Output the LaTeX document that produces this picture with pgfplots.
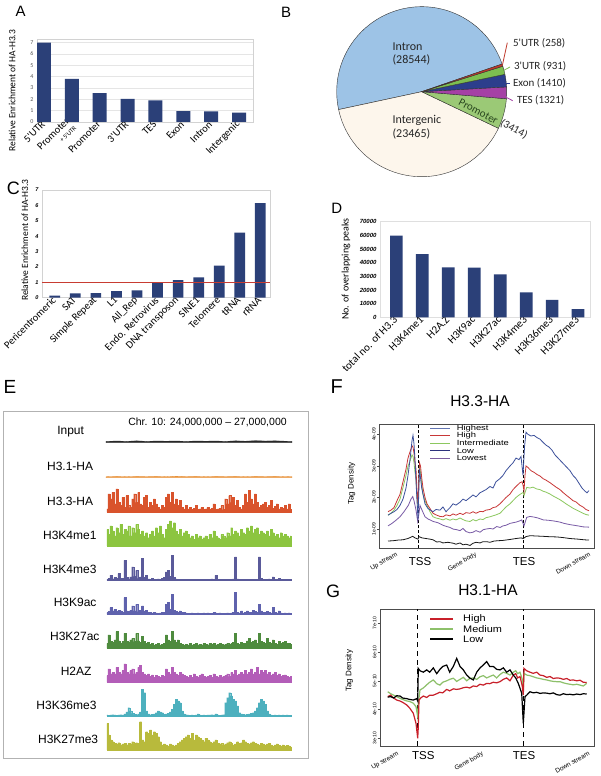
\documentclass[border=0pt]{standalone}
\usepackage{pgfplots}
\pgfplotsset{compat=1.18}
\usepackage{fontspec}
\setmainfont{Liberation Sans}
\newfontfamily\calfont{Carlito}
\newcommand{\fs}[1]{\fontsize{#1}{#1}\selectfont}
\definecolor{barblue}{RGB}{43,64,120}
\definecolor{pieIntron}{RGB}{157,195,230}
\definecolor{pieInterg}{RGB}{253,246,236}
\definecolor{pieProm}{RGB}{155,201,118}
\definecolor{pieTES}{RGB}{165,65,165}
\definecolor{pieExon}{RGB}{44,62,140}
\definecolor{pieUTRthree}{RGB}{125,190,80}
\definecolor{pieUTRfive}{RGB}{192,57,43}
\definecolor{promtxt}{RGB}{40,70,30}
\definecolor{tInput}{RGB}{40,40,40}
\definecolor{tHone}{RGB}{232,146,58}
\definecolor{tHthree}{RGB}{217,83,44}
\definecolor{tKfourmeone}{RGB}{140,197,64}
\definecolor{tKfourmethree}{RGB}{90,90,154}
\definecolor{tKnineac}{RGB}{95,98,173}
\definecolor{tKtwosevenac}{RGB}{78,139,62}
\definecolor{tHtwoAZ}{RGB}{179,93,184}
\definecolor{tKthreesix}{RGB}{77,176,190}
\definecolor{tKtwosevenme}{RGB}{184,186,60}
\definecolor{fTop}{RGB}{60,80,155}
\definecolor{fRed}{RGB}{200,55,55}
\definecolor{fGreen}{RGB}{140,200,95}
\definecolor{fPurple}{RGB}{120,90,165}
\definecolor{fBlack}{RGB}{25,25,25}
\definecolor{lgHighest}{RGB}{100,118,178}
\definecolor{lgLow}{RGB}{45,50,125}
\definecolor{lgLowest}{RGB}{125,95,160}
\definecolor{gRed}{RGB}{200,32,42}
\definecolor{gGreen}{RGB}{141,192,106}
\pgfplotsset{trk/.style={anchor=south west, scale only axis, width=186pt, height=30pt,
  xmin=-0.5, xmax=93.5, ymin=0, ymax=90, hide axis, clip=false},
  trkline/.style={const plot mark mid, fill=#1, draw=#1, line width=0.3pt}}
\begin{document}
\begin{tikzpicture}[x=1pt,y=1pt]
\path[use as bounding box, fill=white] (0,0) rectangle (600,776);

% ---------- panel letters and titles
\node[font=\fs{15}] at (20.7,764.3) {A};
\node[font=\fs{15}] at (286,764) {B};
\node[font=\fs{18}] at (13.3,587.7) {C};
\node[font=\fs{15}] at (336.7,568) {D};
\node[font=\fs{19}] at (10,389) {E};
\node[font=\fs{20}] at (336.7,389.3) {F};
\node[font=\fs{18}] at (333,184.3) {G};
\node[font=\fs{15.5}] at (480,375) {H3.3-HA};
\node[font=\fs{15.5}] at (488,186) {H3.1-HA};

% ---------- A
\begin{axis}[at={(37pt,654pt)}, anchor=south west, scale only axis, width=216pt, height=82.3pt,
  xmin=-0.25, xmax=7.5, ymin=0, ymax=7.25,
  axis line style={draw=gray!35}, ymajorgrids, grid style={gray!20},
  major tick length=0pt, ytick={0,...,7}, xtick={0,...,7},
  xticklabels={5'UTR, {Promoter\\[-1pt]{\fs{6.5}+ 5'UTR}}, Promoter, 3'UTR, TES, Exon, Intron, Intergenic},
  xticklabel style={rotate=45, anchor=east, font=\calfont\fs{10.5}, align=right, inner sep=1pt},
  yticklabel style={font=\calfont\fs{6}, text=gray!70!black},
  /pgf/number format/assume math mode=true,
  ylabel={Relative Enrichment of HA-H3.3},
  every axis y label/.style={at={(axis description cs:-0.115,0.38)}, rotate=90, anchor=center, font=\calfont\fs{9.5}}]
\addplot[ybar, bar width=14pt, fill=barblue, draw=none] coordinates {(0,6.98)(1,3.79)(2,2.54)(3,2.04)(4,1.9)(5,0.96)(6,0.93)(7,0.82)};
\end{axis}

% ---------- B pie
\foreach \v/\c [remember=\b as \a (initially 19)] in {28544/pieIntron, 23465/pieInterg, 3414/pieProm, 1321/pieTES, 1410/pieExon, 931/pieUTRthree, 258/pieUTRfive} {
  \edef\b{\fpeval{\a+\v/59343*360}}
  \filldraw[fill=\c, draw=gray!40!black, line width=0.4pt] (421.7,684.3) -- ++(\a:85pt) arc[start angle=\a, end angle=\b, radius=85pt] -- cycle;
}
\draw[pieUTRfive, line width=0.8pt] (502.4,710.8) -- (507.3,733.3);
\draw[pieUTRthree, line width=0.8pt] (503.9,705.7) -- (510,709);
\draw[pieExon, line width=0.8pt] (505,692.7) -- (510,692.7);
\draw[pieTES, line width=0.8pt] (505,679.3) -- (512.7,675.3);
\begin{scope}[font=\calfont\fs{12}, text=black!85]
\node[anchor=west] at (389,729.3) {Intron};
\node[anchor=west] at (389,716) {(28544)};
\node[anchor=west] at (389,655.3) {Intergenic};
\node[anchor=west] at (389,642) {(23465)};
\end{scope}
\begin{scope}[font=\calfont\fs{11}, text=black!85]
\node[anchor=west] at (509.5,732.7) {5'UTR (258)};
\node[anchor=west] at (510.5,709.3) {3'UTR (931)};
\node[anchor=west] at (509.5,692.7) {Exon (1410)};
\node[anchor=west] at (513.5,676) {TES (1321)};
\node[rotate=-28, text=promtxt] at (478.3,664.5) {Promoter};
\node[rotate=-28] at (514,647) {(3414)};
\end{scope}

% ---------- C
\begin{axis}[at={(42pt,478.3pt)}, anchor=south west, scale only axis, width=228pt, height=107.7pt,
  xmin=-0.62, xmax=10.47, ymin=0, ymax=7,
  axis line style={draw=gray!35}, major tick length=0pt, ytick={0,...,7}, xtick={0,...,10},
  xticklabels={Pericentromeric, SAT, Simple Repeat, L1, All\_Rep, Endo. Retrovirus, DNA transposon, SINE1, Telomere, tRNA, rRNA},
  xticklabel style={rotate=45, anchor=east, font=\calfont\fs{10.5}, inner sep=1pt},
  yticklabel style={font=\bfseries\itshape\fs{5.5}},
  /pgf/number format/assume math mode=true,
  ylabel={Relative Enrichment of HA-H3.3},
  every axis y label/.style={at={(axis description cs:-0.075,0.535)}, rotate=90, anchor=center, font=\calfont\fs{9.5}}]
\addplot[ybar, bar width=10.7pt, fill=barblue, draw=none] coordinates {(0,0.13)(1,0.28)(2,0.3)(3,0.43)(4,0.48)(5,0.95)(6,1.15)(7,1.32)(8,2.08)(9,4.23)(10,6.14)};
\addplot[draw={rgb,255:red,200;green,60;blue,50}, line width=0.9pt] coordinates {(-0.62,1.02)(10.47,1.02)};
\end{axis}

% ---------- D
\begin{axis}[at={(380pt,458.7pt)}, anchor=south west, scale only axis, width=210pt, height=95.6pt,
  xmin=-0.63, xmax=7.46, ymin=0, ymax=70000,
  axis line style={draw=gray!25}, major tick length=0pt,
  ytick={0,10000,20000,30000,40000,50000,60000,70000},
  yticklabels={0,10000,20000,30000,40000,50000,60000,70000}, scaled y ticks=false,
  yticklabel style={font=\bfseries\itshape\fs{6}},
  xtick={0,...,7},
  xticklabels={total no. of H3.3, H3K4me1, H2A.Z, H3K9ac, H3K27ac, H3K4me3, H3K36me3, H3K27me3},
  xticklabel style={rotate=45, anchor=east, font=\calfont\fs{11}, inner sep=1pt},
  ylabel={No. of overlapping peaks},
  every axis y label/.style={at={(axis description cs:-0.162,0.505)}, rotate=90, anchor=center, font=\calfont\fs{10}}]
\addplot[ybar, bar width=12.7pt, fill=barblue, draw=none] coordinates {(0,59800)(1,46300)(2,36600)(3,36400)(4,31500)(5,18300)(6,12700)(7,5900)};
\end{axis}

% ---------- E
\draw[gray!60, line width=0.6pt] (3.3,18) rectangle (308,364.3);
\node[font=\fs{10.5}] at (207.5,353.7) {Chr. 10: 24,000,000 -- 27,000,000};
\begin{scope}[font=\fs{12}]
\node[anchor=east] at (87.5,344.3) {Input};
\node[anchor=east] at (96.7,310) {H3.1-HA};
\node[anchor=east] at (96.7,274.3) {H3.3-HA};
\node[anchor=east] at (100,241) {H3K4me1};
\node[anchor=east] at (100,207) {H3K4me3};
\node[anchor=east] at (100,173.3) {H3K9ac};
\node[anchor=east] at (103,140) {H3K27ac};
\node[anchor=east] at (95,105) {H2AZ};
\node[anchor=east] at (100,71) {H3K36me3};
\node[anchor=east] at (101.7,37) {H3K27me3};
\end{scope}

\begin{axis}[trk, at={(106pt,333.3pt)}]
\addplot[fill=tInput, draw=tInput, line width=0.3pt] coordinates {(-0.5,4)(5,5)(10,4)(15,5.5)(20,4)(25,5)(30,4.5)(35,5)(40,4)(45,5)(50,4.5)(55,5)(60,4)(65,5.5)(70,4.5)(75,6)(80,5)(85,5.5)(90,4.5)(93.5,4)} \closedcycle;
\end{axis}
\begin{axis}[trk, at={(106pt,298.3pt)}]
\addplot[fill=tHone, draw=tHone, line width=0.3pt] coordinates {(-0.5,3)(5,4)(10,3)(15,4)(20,3.5)(25,4)(30,3)(35,4.5)(40,3.5)(45,4)(50,3)(55,4)(60,3.5)(65,4)(70,3)(75,4)(80,3.5)(85,4)(90,3)(93.5,3.5)} \closedcycle;
\end{axis}
\begin{axis}[trk, at={(106pt,263.7pt)}]
\addplot[trkline=tHthree] table[x expr=\coordindex, y index=0, header=false, row sep=\\] {10\\55\\40\\60\\25\\70\\30\\20\\45\\15\\50\\20\\15\\40\\55\\30\\60\\25\\20\\45\\50\\15\\30\\20\\40\\25\\15\\10\\20\\15\\45\\55\\30\\60\\25\\40\\20\\35\\15\\10\\20\\10\\15\\8\\12\\20\\8\\10\\15\\8\\10\\15\\8\\12\\25\\8\\10\\12\\20\\8\\40\\25\\50\\30\\45\\20\\35\\15\\10\\20\\55\\30\\65\\40\\25\\55\\30\\15\\20\\25\\30\\15\\20\\35\\12\\18\\25\\10\\15\\12\\20\\10\\25\\8\\} \closedcycle;
\end{axis}
\begin{axis}[trk, at={(106pt,230pt)}]
\addplot[trkline=tKfourmeone] table[x expr=\coordindex, y index=0, header=false, row sep=\\] {50\\35\\60\\45\\30\\55\\40\\65\\35\\50\\45\\60\\30\\55\\40\\65\\50\\35\\45\\30\\40\\25\\35\\45\\30\\55\\40\\60\\35\\25\\50\\65\\75\\55\\70\\45\\35\\50\\30\\40\\45\\35\\25\\30\\20\\35\\25\\30\\20\\25\\30\\20\\35\\25\\45\\30\\25\\20\\35\\30\\25\\40\\30\\55\\35\\45\\40\\30\\50\\40\\35\\55\\45\\60\\40\\50\\55\\35\\45\\40\\35\\45\\30\\50\\40\\30\\35\\25\\40\\30\\35\\30\\25\\30\\} \closedcycle;
\end{axis}
\begin{axis}[trk, at={(106pt,195.7pt)}]
\addplot[trkline=tKfourmethree] table[x expr=\coordindex, y index=0, header=false, row sep=\\] {3\\5\\15\\4\\8\\6\\20\\5\\6\\60\\8\\4\\10\\40\\12\\30\\6\\10\\65\\8\\15\\4\\3\\5\\3\\3\\4\\3\\5\\8\\25\\30\\12\\75\\8\\4\\3\\3\\2\\3\\2\\3\\2\\2\\3\\2\\2\\3\\2\\2\\2\\3\\2\\4\\3\\15\\3\\2\\2\\3\\2\\3\\2\\2\\4\\70\\4\\2\\3\\2\\2\\3\\2\\2\\3\\2\\3\\70\\5\\3\\2\\3\\4\\2\\10\\3\\2\\5\\2\\3\\2\\3\\2\\2\\} \closedcycle;
\end{axis}
\begin{axis}[trk, at={(106pt,161.7pt)}]
\addplot[trkline=tKnineac] table[x expr=\coordindex, y index=0, header=false, row sep=\\] {5\\8\\20\\10\\15\\8\\12\\10\\6\\50\\10\\8\\12\\25\\10\\30\\8\\12\\25\\10\\12\\6\\5\\4\\5\\4\\3\\4\\5\\6\\30\\35\\15\\60\\12\\8\\6\\10\\6\\5\\4\\3\\3\\4\\3\\3\\4\\3\\3\\4\\3\\4\\3\\3\\5\\4\\3\\4\\3\\3\\3\\4\\3\\4\\6\\65\\5\\4\\10\\4\\5\\10\\6\\5\\12\\8\\6\\30\\10\\6\\5\\8\\6\\4\\20\\5\\4\\10\\4\\3\\4\\3\\4\\3\\} \closedcycle;
\end{axis}
\begin{axis}[trk, at={(106pt,127.7pt)}]
\addplot[trkline=tKtwosevenac] table[x expr=\coordindex, y index=0, header=false, row sep=\\] {15\\40\\20\\18\\25\\50\\22\\15\\20\\45\\20\\18\\25\\30\\20\\45\\22\\18\\35\\20\\15\\18\\12\\15\\10\\12\\15\\10\\12\\14\\40\\25\\20\\50\\25\\18\\25\\15\\12\\10\\12\\10\\14\\10\\12\\15\\10\\12\\10\\14\\12\\10\\14\\12\\15\\10\\12\\14\\12\\10\\12\\15\\12\\14\\18\\45\\15\\12\\18\\15\\15\\22\\30\\18\\20\\25\\15\\45\\20\\18\\15\\30\\18\\15\\25\\15\\12\\20\\15\\18\\20\\15\\14\\12\\} \closedcycle;
\end{axis}
\begin{axis}[trk, at={(106pt,93.7pt)}]
\addplot[trkline=tHtwoAZ] table[x expr=\coordindex, y index=0, header=false, row sep=\\] {20\\40\\25\\30\\25\\45\\30\\25\\35\\55\\30\\25\\35\\40\\25\\30\\45\\50\\30\\25\\20\\25\\18\\22\\15\\20\\18\\15\\20\\18\\40\\30\\25\\45\\30\\25\\20\\30\\25\\20\\18\\15\\20\\15\\25\\18\\15\\20\\25\\18\\15\\18\\20\\15\\25\\18\\15\\20\\15\\18\\20\\25\\18\\30\\25\\35\\20\\25\\30\\25\\35\\25\\30\\40\\25\\30\\45\\25\\35\\30\\35\\25\\30\\20\\25\\30\\20\\25\\18\\20\\22\\18\\15\\18\\} \closedcycle;
\end{axis}
\begin{axis}[trk, at={(106pt,60pt)}]
\addplot[trkline=tKthreesix] table[x expr=\coordindex, y index=0, header=false, row sep=\\] {3\\2\\3\\4\\3\\2\\3\\4\\3\\6\\12\\25\\15\\8\\5\\4\\6\\12\\80\\70\\15\\6\\4\\5\\6\\10\\15\\12\\10\\5\\6\\8\\12\\20\\35\\50\\45\\40\\15\\6\\4\\3\\2\\3\\2\\3\\6\\3\\2\\3\\2\\3\\3\\4\\3\\6\\3\\2\\3\\4\\40\\55\\70\\60\\50\\45\\30\\10\\6\\5\\4\\5\\6\\8\\10\\15\\25\\40\\50\\45\\35\\15\\6\\3\\2\\3\\2\\3\\2\\3\\2\\3\\2\\2\\} \closedcycle;
\end{axis}
\begin{axis}[trk, at={(106pt,26pt)}]
\addplot[trkline=tKtwosevenme] table[x expr=\coordindex, y index=0, header=false, row sep=\\] {80\\45\\30\\25\\20\\18\\22\\15\\18\\20\\15\\20\\18\\25\\20\\22\\18\\85\\30\\25\\55\\50\\60\\45\\55\\50\\40\\25\\15\\18\\15\\12\\18\\15\\12\\15\\20\\25\\30\\35\\40\\45\\35\\50\\30\\45\\40\\35\\30\\25\\35\\30\\25\\20\\25\\30\\20\\18\\20\\15\\18\\22\\25\\20\\15\\18\\25\\20\\22\\30\\25\\20\\18\\22\\25\\20\\18\\15\\20\\18\\15\\18\\20\\15\\12\\15\\18\\14\\12\\15\\12\\14\\12\\10\\} \closedcycle;
\end{axis}

% ---------- F
\begin{axis}[at={(379.3pt,227.7pt)}, anchor=south west, scale only axis, width=214.7pt, height=124.3pt,
  xmin=-8.7, xmax=206, ymin=0.39, ymax=4.33,
  axis line style={draw=gray!60!black, line width=0.5pt},
  xtick=\empty, ytick={1,2,3,4}, yticklabels={1e-09,2e-09,3e-09,4e-09}, ytick pos=left,
  yticklabel style={rotate=90, anchor=south, font=\fs{5}, inner sep=1pt},
  tick align=outside, major tick length=2.5pt, tick style={gray!60!black},
  ylabel={Tag Density},
  every axis y label/.style={at={(axis description cs:-0.129,0.52)}, rotate=90, anchor=center, font=\fs{8}}]
\addplot[black, densely dashed, line width=0.7pt] coordinates {(30.3,0.39)(30.3,4.33)};
\addplot[black, densely dashed, line width=0.7pt] coordinates {(135.3,0.39)(135.3,4.33)};
\addplot[fBlack, line width=0.8pt] coordinates {(0,0.62)(5,0.63)(10,0.65)(15,0.66)(20,0.7)(24.7,0.77)(27,0.72)(30,0.68)(31,0.76)(34,0.72)(38,0.7)(42,0.68)(45,0.66)(48.7,0.59)(52,0.6)(55,0.56)(60,0.58)(65.3,0.55)(68,0.52)(72,0.56)(75,0.5)(78,0.52)(82,0.48)(85,0.55)(88,0.58)(92,0.56)(95,0.6)(98.7,0.6)(102,0.58)(106,0.62)(110,0.63)(115,0.64)(122,0.67)(128,0.7)(133,0.72)(135.3,0.7)(138,0.76)(142,0.79)(148,0.78)(155,0.77)(160,0.76)(168.7,0.75)(175,0.73)(182,0.7)(190,0.68)(196,0.66)(201,0.65)};
\addplot[fPurple, line width=0.8pt] coordinates {(0,1.1)(4,1.18)(8,1.28)(12,1.39)(16,1.55)(20.3,1.75)(23,1.95)(24.7,2.03)(26,1.9)(28,1.6)(29.7,1.24)(31,1.5)(32,1.75)(34,1.6)(37,1.39)(40,1.32)(45.3,1.24)(50,1.2)(55,1.12)(58.7,1.08)(62,1.05)(65,1.0)(68.7,0.98)(72,0.95)(75,1.02)(78,0.92)(82,0.88)(85,0.9)(88,0.95)(92,0.9)(95.3,0.98)(98,1.0)(102,1.02)(105,1.0)(108.7,1.08)(112,1.05)(115,1.1)(118,1.12)(122,1.18)(125,1.2)(128,1.22)(131,1.25)(133.7,1.29)(136,1.1)(138.7,1.37)(142,1.4)(146,1.38)(150,1.35)(155.3,1.29)(160,1.28)(165,1.26)(168.7,1.24)(172,1.22)(176,1.18)(182,1.14)(186,1.12)(190,1.1)(195,1.07)(201,1.06)};
\addplot[fGreen, line width=0.8pt] coordinates {(0,1.44)(3,1.5)(6,1.6)(9,1.75)(12,1.95)(15,2.32)(18,2.7)(20,2.99)(22,3.15)(24,3.35)(25,3.3)(26,3.1)(27,2.8)(28,2.6)(29,2.0)(30,1.7)(31,2.6)(31.5,2.99)(32.5,2.8)(33.7,2.43)(35,2.1)(37,1.9)(39,1.75)(42,1.55)(45,1.39)(48,1.35)(52,1.32)(55,1.29)(58,1.33)(62,1.28)(65,1.32)(68,1.29)(72,1.35)(75,1.3)(78,1.26)(82,1.24)(85,1.3)(88,1.26)(92,1.32)(95,1.3)(98,1.36)(102,1.39)(105,1.42)(108,1.45)(112,1.5)(115,1.6)(118,1.7)(122,1.8)(125,1.9)(128,2.0)(130.3,2.06)(133,2.12)(135.3,2.16)(136,2.06)(138.7,2.32)(142,2.3)(145,2.33)(148.7,2.27)(152,2.25)(155,2.2)(158,2.17)(162,2.11)(165,2.05)(168,2.0)(172,1.93)(175.3,1.86)(178,1.8)(182,1.72)(185,1.66)(188.7,1.6)(192,1.55)(195,1.5)(198,1.46)(201,1.44)};
\addplot[fRed, line width=0.8pt] coordinates {(0,1.55)(3,1.6)(6,1.68)(9,1.9)(12,2.1)(15,2.5)(18,2.9)(20,3.25)(22,3.45)(24,3.64)(25,3.6)(26,3.4)(27,3.1)(28,2.9)(29,2.2)(30,1.8)(31,2.8)(31.5,3.1)(32.5,3.0)(33.7,2.63)(35,2.3)(37,2.0)(39,1.8)(42,1.65)(45,1.5)(48,1.45)(52,1.4)(55,1.39)(58,1.45)(62,1.42)(65,1.48)(68,1.44)(72,1.5)(75,1.46)(78,1.52)(82,1.5)(85,1.55)(88,1.5)(92,1.56)(95,1.55)(98,1.6)(102,1.62)(105,1.68)(108,1.7)(112,1.8)(115,1.9)(118,2.0)(122,2.11)(125,2.25)(128,2.35)(132,2.47)(134,2.5)(135,2.4)(136,2.2)(137,2.7)(138,3.0)(140,2.95)(143,2.85)(146,2.8)(149,2.73)(152,2.68)(155,2.6)(158,2.55)(162,2.47)(165,2.4)(168,2.33)(172,2.25)(175,2.16)(178,2.08)(182,1.98)(185,1.9)(188,1.86)(192,1.75)(195,1.7)(198,1.62)(201,1.58)};
\addplot[fTop, line width=0.8pt] coordinates {(0,1.44)(3,1.5)(6,1.55)(9,1.62)(12,1.75)(15,1.95)(18,2.3)(20,2.7)(22,3.2)(24,3.8)(25,3.97)(26,3.7)(27,3.2)(28,2.5)(29,1.9)(30,1.3)(31,2.4)(31.5,2.9)(33.7,2.3)(37,1.8)(40,1.65)(45,1.55)(48,1.62)(52,1.6)(55,1.7)(58,1.55)(62,1.68)(65,1.8)(68,1.76)(72,1.85)(75,1.95)(78,1.9)(82,2.0)(85,2.08)(88,2.02)(92,2.15)(95,2.2)(98,2.25)(102,2.35)(105,2.3)(108,2.5)(112,2.6)(115,2.7)(118,2.85)(122,3.0)(125,3.1)(128,3.25)(131,3.2)(133,3.3)(135,2.7)(136.5,3.6)(138,4.07)(140,4.0)(143,3.95)(146,3.97)(149,3.9)(152,3.85)(155,3.75)(158,3.66)(161,3.6)(164,3.5)(167,3.35)(170,3.25)(173,3.15)(176,3.05)(179,2.95)(182,2.85)(185,2.7)(188,2.6)(191,2.45)(194,2.3)(197,2.2)(199,2.15)(201,2.22)};
\end{axis}
% F legend
\begin{scope}[line width=0.9pt]
\draw[lgHighest] (430,347.7) -- (450,347.7);
\draw[fRed] (430,340.3) -- (450,340.3);
\draw[fGreen] (430,333) -- (450,333);
\draw[lgLow] (430,325.3) -- (450,325.3);
\draw[lgLowest] (430,317.7) -- (450,317.7);
\end{scope}
\begin{scope}[every node/.style={anchor=west, font=\fs{7.5}, xscale=1.25, inner sep=0pt}]
\node at (456.5,347.7) {Highest};
\node at (456.5,340.3) {High};
\node at (456.5,333) {Intermediate};
\node at (456.5,325.3) {Low};
\node at (456.5,317.7) {Lowest};
\end{scope}
\node[font=\fs{11.5}] at (420,214) {TSS};
\node[font=\fs{11.5}] at (524,214) {TES};
\node[rotate=30, anchor=north east, font=\fs{6.5}, inner sep=1pt] at (396,226) {Up stream};
\node[rotate=30, anchor=north east, font=\fs{6.5}, inner sep=1pt] at (475,226) {Gene body};
\node[rotate=30, anchor=north east, font=\fs{6.5}, inner sep=1pt] at (589,226) {Down stream};

% ---------- G
\begin{axis}[at={(380pt,30pt)}, anchor=south west, scale only axis, width=214pt, height=136.7pt,
  xmin=-7.7, xmax=206.3, ymin=2.73, ymax=7.49,
  axis line style={draw=gray!60!black, line width=0.5pt},
  xtick=\empty, ytick={3,4,5,6,7}, yticklabels={3e-10,4e-10,5e-10,6e-10,7e-10}, ytick pos=left,
  yticklabel style={rotate=90, anchor=south, font=\fs{5}, inner sep=1pt},
  tick align=outside, major tick length=2.5pt, tick style={gray!60!black},
  ylabel={Tag Density},
  every axis y label/.style={at={(axis description cs:-0.143,0.55)}, rotate=90, anchor=center, font=\fs{8}}]
\addplot[black, dash pattern=on 5pt off 4pt, line width=1.1pt] coordinates {(30,2.73)(30,7.49)};
\addplot[black, dash pattern=on 5pt off 4pt, line width=1.1pt] coordinates {(135.6,2.73)(135.6,7.49)};
\addplot[gGreen, line width=1.2pt] coordinates {(0,4.62)(3,4.55)(6,4.5)(9,4.45)(12.3,4.39)(15,4.35)(19,4.3)(22,4.28)(25.6,4.22)(28.3,4.1)(30,3.75)(30.6,4.2)(32.3,4.68)(35.6,4.75)(39,4.86)(42,4.95)(45.6,5.03)(49,4.9)(52.3,4.85)(55,4.95)(59,5.0)(62,5.05)(65.6,5.09)(69,4.98)(72.3,5.05)(75.6,5.12)(79,5.0)(82,5.08)(85.6,5.1)(89,5.05)(92.3,5.14)(95.6,5.18)(99,5.1)(102,5.15)(105.6,5.2)(109,5.1)(112.3,5.22)(115.6,5.3)(119,5.26)(122.3,5.2)(125.6,5.3)(128,5.35)(130,5.25)(132.3,5.3)(134.6,5.05)(135.6,4.7)(136.3,5.26)(139,5.2)(142.3,5.18)(145.6,5.14)(149,5.1)(152.3,5.08)(155.6,5.05)(159,5.03)(162.3,5.0)(165.6,4.98)(169,4.97)(172.3,4.97)(175.6,4.93)(179,4.9)(182.3,4.88)(185.6,4.86)(189,4.88)(192.3,4.85)(195.6,4.82)(199,4.91)};
\addplot[gRed, line width=1.2pt] coordinates {(0,4.45)(3,4.5)(6,4.4)(9,4.33)(12,4.3)(15,4.25)(19,4.16)(22,4.05)(25.6,3.87)(28.3,3.52)(30,3.0)(30.6,3.4)(31.3,4.33)(33,4.4)(35.6,4.47)(39,4.42)(42,4.5)(45.6,4.5)(49,4.55)(52,4.6)(55,4.58)(59,4.7)(62,4.65)(65.6,4.72)(69,4.7)(72.3,4.72)(75.6,4.76)(79,4.78)(82,4.75)(85.6,4.82)(89,4.8)(92.3,4.88)(95.6,4.85)(99,4.91)(102,4.9)(105.6,4.95)(109,4.93)(112.3,4.97)(115.6,5.05)(119,5.1)(122.3,5.0)(125.6,5.2)(128,5.25)(130,5.1)(132.3,5.15)(134,4.9)(134.6,4.8)(135.6,4.5)(136.3,5.43)(139,5.35)(142.3,5.3)(145.6,5.26)(149,5.3)(152.3,5.2)(155.6,5.18)(159,5.12)(162.3,5.15)(165.6,5.08)(169,5.1)(172.3,5.09)(175.6,5.05)(179,5.08)(182.3,5.02)(185.6,5.03)(189,5.0)(192.3,5.02)(195.6,4.95)(199,4.94)};
\addplot[black, line width=1.2pt] coordinates {(0,4.43)(3,4.45)(6,4.4)(9,4.48)(12.3,4.47)(15,4.4)(19,4.38)(22,4.35)(25.6,4.33)(29,4.38)(30,4.3)(30.6,5.43)(32.3,5.35)(35.6,5.3)(39,5.38)(42,5.3)(45.6,5.45)(49,5.25)(52.3,5.4)(55,5.5)(59,5.55)(62,5.3)(65.6,5.5)(69,5.78)(72.3,5.5)(75.6,5.38)(79,5.2)(82,5.1)(85.6,5.03)(89,5.3)(92.3,5.45)(95.6,5.55)(99,5.67)(102,5.5)(105.6,5.5)(109,5.4)(112.3,5.38)(115.6,5.45)(119,5.3)(122.3,5.38)(125.6,5.2)(128,5.1)(130.6,4.91)(134,4.57)(135.6,3.52)(137.3,4.45)(139,4.5)(142.3,4.62)(145.6,4.58)(149,4.6)(152.3,4.56)(155.6,4.58)(159,4.57)(162.3,4.55)(165.6,4.58)(169,4.52)(172.3,4.5)(175.6,4.55)(179,4.52)(182.3,4.53)(185.6,4.51)(189,4.54)(192.3,4.52)(195.6,4.55)(199,4.54)};
\end{axis}
% G legend
\begin{scope}[line width=2.2pt]
\draw[gRed] (430,157) -- (453.3,157);
\draw[gGreen] (430,147) -- (453.3,147);
\draw[black] (430,137) -- (453.3,137);
\end{scope}
\begin{scope}[every node/.style={anchor=west, font=\fs{9.5}, xscale=1.15, inner sep=0pt}]
\node at (463,157) {High};
\node at (463,147) {Medium};
\node at (463,137) {Low};
\end{scope}
\node[font=\fs{11.5}] at (423.3,20.3) {TSS};
\node[font=\fs{11.5}] at (524,20.3) {TES};
\node[rotate=30, anchor=north east, font=\fs{6.5}, inner sep=1pt] at (397,26.7) {Up stream};
\node[rotate=30, anchor=north east, font=\fs{6.5}, inner sep=1pt] at (481.7,26.7) {Gene body};
\node[rotate=30, anchor=north east, font=\fs{6.5}, inner sep=1pt] at (588.3,26.7) {Down stream};
\end{tikzpicture}
\end{document}
